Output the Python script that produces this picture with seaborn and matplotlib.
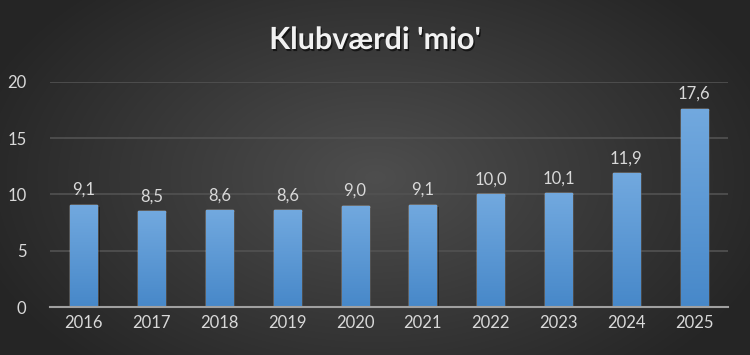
import numpy as np
import pandas as pd
import matplotlib
matplotlib.use("Agg")
import matplotlib.pyplot as plt
import matplotlib.patheffects as pe
import seaborn as sns

years = ["2016", "2017", "2018", "2019", "2020", "2021", "2022", "2023", "2024", "2025"]
values = [9.1, 8.5, 8.6, 8.6, 9.0, 9.1, 10.0, 10.1, 11.9, 17.6]
labels = ["9,1", "8,5", "8,6", "8,6", "9,0", "9,1", "10,0", "10,1", "11,9", "17,6"]
yticks = [0, 5, 10, 15, 20]
title = "Klubværdi 'mio'"

sns.set_theme(style="dark")
plt.rcParams['font.family'] = ['Lato', 'DejaVu Sans']

fig = plt.figure(figsize=(7.5, 3.55), dpi=100)

# radial gradient background
bg = fig.add_axes([0, 0, 1, 1], zorder=-10)
yy, xx = np.mgrid[0:355, 0:750]
r = np.sqrt(((xx - 375) / 420.0) ** 2 + ((yy - 177) / 260.0) ** 2)
r = np.clip(r, 0, 1)
c0 = np.array([0x4e, 0x4e, 0x4e]) / 255
c1 = np.array([0x25, 0x25, 0x25]) / 255
img = c0[None, None, :] * (1 - r[..., None]) + c1[None, None, :] * r[..., None]
bg.imshow(img, aspect="auto", extent=[0, 1, 0, 1], origin="upper")
bg.set_axis_off()

ax = fig.add_axes([50 / 750, 1 - 307 / 355, 678 / 750, (307 - 82) / 355])
ax.patch.set_alpha(0)
df = pd.DataFrame({"year": years, "value": values})
sns.barplot(data=df, x="year", y="value", ax=ax, width=0.4, color="#5b9bd5",
            saturation=1, zorder=3)

# gradient overlay on bars
grad = np.linspace(0, 1, 256)[:, None]
top = np.array([0x72, 0xa9, 0xdf]) / 255
bot = np.array([0x47, 0x88, 0xc9]) / 255
gimg = top[None, None, :] * (1 - grad[..., None]) + bot[None, None, :] * grad[..., None]
gimg = np.repeat(gimg, 2, axis=1)
for p in ax.patches:
    x0, y0 = p.get_x(), p.get_y()
    w, h = p.get_width(), p.get_height()
    p.set_path_effects([pe.SimplePatchShadow(offset=(1.5, -1.5), shadow_rgbFace="black", alpha=0.35), pe.Normal()])
    im = ax.imshow(gimg, extent=[x0, x0 + w, y0, y0 + h], aspect="auto", zorder=4, origin="upper")
    im.set_clip_path(p)

ax.set_xlim(-0.5, len(years) - 0.5)
ax.set_ylim(0, 20)
ax.set_yticks(yticks)
ax.set_yticklabels([str(t) for t in yticks])
ax.grid(axis="y", color="#525252", linewidth=1.2, zorder=0)
ax.grid(axis="x", visible=False)
ax.set_axisbelow(True)
for s in ["top", "right", "left"]:
    ax.spines[s].set_visible(False)
ax.spines["bottom"].set_color("#a0a0a0")
ax.spines["bottom"].set_linewidth(1.5)
ax.spines["bottom"].set_zorder(5)
ax.tick_params(axis="both", colors="#d9d9d9", labelsize=12, length=0, pad=6)
ax.tick_params(axis="y", pad=17)
ax.set_xlabel("")
ax.set_ylabel("")

for i, (v, lab) in enumerate(zip(values, labels)):
    ax.annotate(lab, (i, v), xytext=(0, 5), textcoords="offset points",
                ha="center", va="bottom", color="#d9d9d9", fontsize=12, zorder=6)

fig.text(0.5, 1 - 40 / 355, title, ha="center", va="center", color="#f2f2f2",
         fontsize=22, fontweight="bold",
         path_effects=[pe.withSimplePatchShadow(offset=(1, -1.5), shadow_rgbFace="black", alpha=0.6)])

fig.savefig("out.png", dpi=100)
